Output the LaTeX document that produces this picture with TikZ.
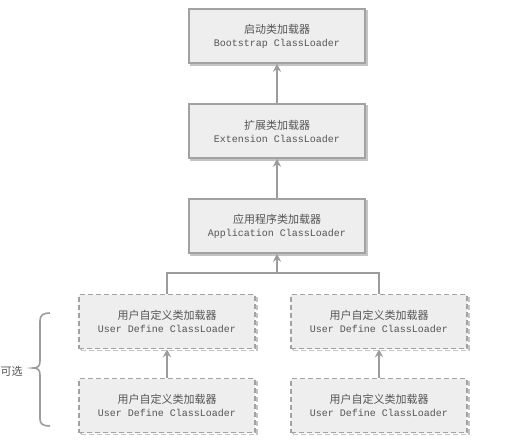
\documentclass[tikz,border=0pt]{standalone}
\usepackage{fontspec}
\newfontfamily\cjkfont{Noto Sans CJK SC}
\newfontfamily\codefont{Liberation Mono}
\usetikzlibrary{arrows.meta}
\definecolor{boxfill}{HTML}{EEEEEE}
\definecolor{boxline}{HTML}{A2A2A2}
\definecolor{boxshade}{HTML}{C4C4C4}
\definecolor{linkgray}{HTML}{9C9C9C}
\definecolor{labelgray}{HTML}{555555}
\tikzset{
  loader/.style={
    draw=boxline, line width=1.5pt, fill=boxfill,
    minimum width=176pt, minimum height=54pt, inner sep=0pt,
    align=center, text=labelgray,
    font=\fontsize{10}{13}\selectfont,
    preaction={draw=boxshade, line width=1.5pt,
      transform canvas={shift={(1.8pt,-1.8pt)}}}},
  userloader/.style={loader, dashed, dash pattern=on 5pt off 3pt,
    preaction={draw=boxshade, line width=1.5pt, dash pattern=on 5pt off 3pt,
      transform canvas={shift={(1.8pt,-1.8pt)}}}},
  link/.style={draw=linkgray, line width=2.2pt},
  uplink/.style={link, -{Stealth[length=8pt,width=8pt]}},
}
\newcommand{\loadertext}[2]{{\cjkfont\fontsize{11}{13}\selectfont #1}\\{\codefont #2}}
\begin{document}
\begin{tikzpicture}[x=1pt, y=-1pt]
  \useasboundingbox[fill=white] (0,0) rectangle (506,440);

  % parent-delegation chain
  \node[loader] (boot) at (277,36)  {\loadertext{启动类加载器}{Bootstrap ClassLoader}};
  \node[loader] (ext)  at (277,131) {\loadertext{扩展类加载器}{Extension ClassLoader}};
  \node[loader] (app)  at (277,226) {\loadertext{应用程序类加载器}{Application ClassLoader}};

  % custom loaders
  \node[userloader] (userA)  at (167,321.5) {\loadertext{用户自定义类加载器}{User Define ClassLoader}};
  \node[userloader] (userB)  at (379,321.5) {\loadertext{用户自定义类加载器}{User Define ClassLoader}};
  \node[userloader] (userA2) at (167,405.5) {\loadertext{用户自定义类加载器}{User Define ClassLoader}};
  \node[userloader] (userB2) at (379,405.5) {\loadertext{用户自定义类加载器}{User Define ClassLoader}};

  % connectors
  \draw[uplink] (ext) -- (boot);
  \draw[uplink] (app) -- (ext);
  \coordinate (join) at (277,273);
  \draw[link, line join=miter] (userA.north) |- (join) -| (userB.north);
  \draw[uplink] (join) -- (app.south);
  \draw[uplink] (userA2) -- (userA);
  \draw[uplink] (userB2) -- (userB);

  % optional bracket
  \draw[linkgray, line width=1.6pt]
    (50,313) .. controls (43,313) and (40,315) .. (40,321)
    -- (40,361) .. controls (40,366) and (38,368) .. (33,368)
    .. controls (38,368) and (40,370) .. (40,375)
    -- (40,419) .. controls (40,424) and (43,426) .. (50,426);
  \node[anchor=west, text=labelgray, inner sep=0pt,
        font=\cjkfont\fontsize{11}{13}\selectfont] (optional) at (0.5,371) {可选};
\end{tikzpicture}
\end{document}
